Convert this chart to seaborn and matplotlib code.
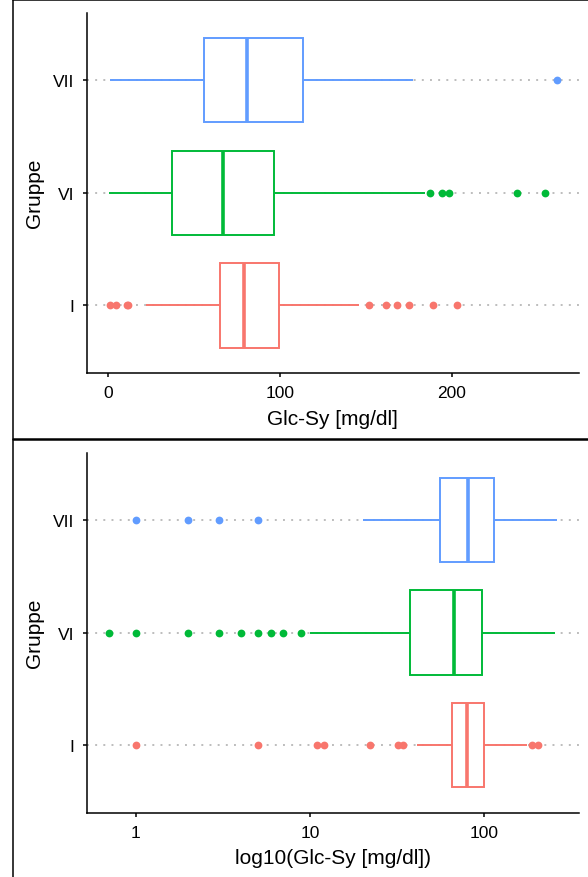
import numpy as np
import pandas as pd
import matplotlib
matplotlib.use("Agg")
import matplotlib.pyplot as plt
from matplotlib.lines import Line2D
from matplotlib.ticker import NullLocator, FixedLocator, FixedFormatter
import seaborn as sns

# ---------------- data ----------------
order = ["VII", "VI", "I"]                      # top to bottom
colors = {"I": "#F8766D", "VI": "#00BA38", "VII": "#619CFF"}

# box quartiles (q1, median, q3)
box_I = [65.5, 79.2, 99.7]
box_VI = [37.5, 67.0, 96.6]
box_VII = [56.0, 80.7, 113.3]

# individually visible values (whisker ends and outliers in either panel)
pts_I = [1, 5, 11, 12, 22, 32, 34, 41, 146, 152, 162, 168, 175, 189, 203]
pts_VI = [0.7, 1, 2, 3, 4, 5, 6, 7, 8.9, 10, 184.5, 187, 194.5, 198.5, 238, 254]
pts_VII = [1, 2, 3, 5, 20, 177.6, 261]

lin_ticks = [0, 100, 200]
log_ticks = [1, 10, 100]
log_tick_labels = ["1", "10", "100"]

# sample table that reproduces the displayed box statistics
box_weight = 20
rows = []
for g, box, pts in [("I", box_I, pts_I), ("VI", box_VI, pts_VI), ("VII", box_VII, pts_VII)]:
    vals = list(pts) + [v for v in box for _ in range(box_weight)]
    rows += [(g, v) for v in vals]
df = pd.DataFrame(rows, columns=["Gruppe", "Glc"])

# ---------------- figure ----------------
sns.set_theme(style="ticks")
plt.rcParams["font.family"] = ["Liberation Sans", "DejaVu Sans"]

W, H = 588, 878
fig = plt.figure(figsize=(W / 100, H / 100), dpi=100)


def axrect(top_px, bot_px, left_px=86.6, right_px=579.2):
    return [left_px / W, 1 - bot_px / H, (right_px - left_px) / W, (bot_px - top_px) / H]


ax1 = fig.add_axes(axrect(13.5, 374))
ax2 = fig.add_axes(axrect(453.5, 813.5))

allv = np.array(pts_I + pts_VI + pts_VII + box_I + box_VI + box_VII, dtype=float)
vmin, vmax = allv.min(), allv.max()


def draw(ax, log):
    for i, g in enumerate(order):
        ax.axhline(i, color="#BDBDBD", lw=1.4, ls=(0, (1, 3.2)), zorder=0.5)
    for g in order:
        c = colors[g]
        n_before = len(ax.patches)
        sns.boxplot(
            data=df[df.Gruppe == g], x="Glc", y="Gruppe", order=order,
            color=c, linecolor=c, saturation=1, fill=True, width=0.75,
            whis=1.5, log_scale=log, showcaps=False, linewidth=1.4,
            medianprops=dict(linewidth=2.6),
            flierprops=dict(marker="o", markersize=5.6, markerfacecolor=c,
                            markeredgecolor=c, markeredgewidth=0),
            ax=ax,
        )
        for p in ax.patches[n_before:]:
            p.set_facecolor("white")

    ax.set_ylim(2.6, -0.6)
    if log:
        lo, hi = np.log10(vmin), np.log10(vmax)
        r = hi - lo
        ax.set_xlim(10 ** (lo - 0.05 * r), 10 ** (hi + 0.05 * r))
        ax.xaxis.set_major_locator(FixedLocator(log_ticks))
        ax.xaxis.set_major_formatter(FixedFormatter(log_tick_labels))
        ax.xaxis.set_minor_locator(NullLocator())
        ax.set_xlabel("log10(Glc-Sy [mg/dl])", fontsize=15, color="black")
    else:
        r = vmax - vmin
        ax.set_xlim(vmin - 0.05 * r, vmax + 0.05 * r)
        ax.set_xticks(lin_ticks)
        ax.set_xlabel("Glc-Sy [mg/dl]", fontsize=15, color="black")
    ax.set_ylabel("Gruppe", fontsize=15, color="black")
    sns.despine(ax=ax)
    for s in ["left", "bottom"]:
        ax.spines[s].set_linewidth(1.1)
        ax.spines[s].set_color("black")
    ax.tick_params(axis="both", length=3.2, width=1.1, color="black",
                   labelsize=12.5, labelcolor="black", pad=5.8)
    ax.xaxis.set_label_coords(0.5, -0.0993)
    ax.yaxis.set_label_coords(-0.0865, 0.5)
    ax.set_facecolor("white")


draw(ax1, False)
draw(ax2, True)

# panel borders
def fline(x0, y0, x1, y1, lw=1.1):
    fig.add_artist(Line2D([x0 / W, x1 / W], [1 - y0 / H, 1 - y1 / H],
                          transform=fig.transFigure, color="black", lw=lw))

fline(13, 0, 13, H)
fline(13, 1.2, W, 1.2)
fline(13, 440, W, 440, lw=1.8)

fig.savefig("out.png", dpi=100, facecolor="white")
